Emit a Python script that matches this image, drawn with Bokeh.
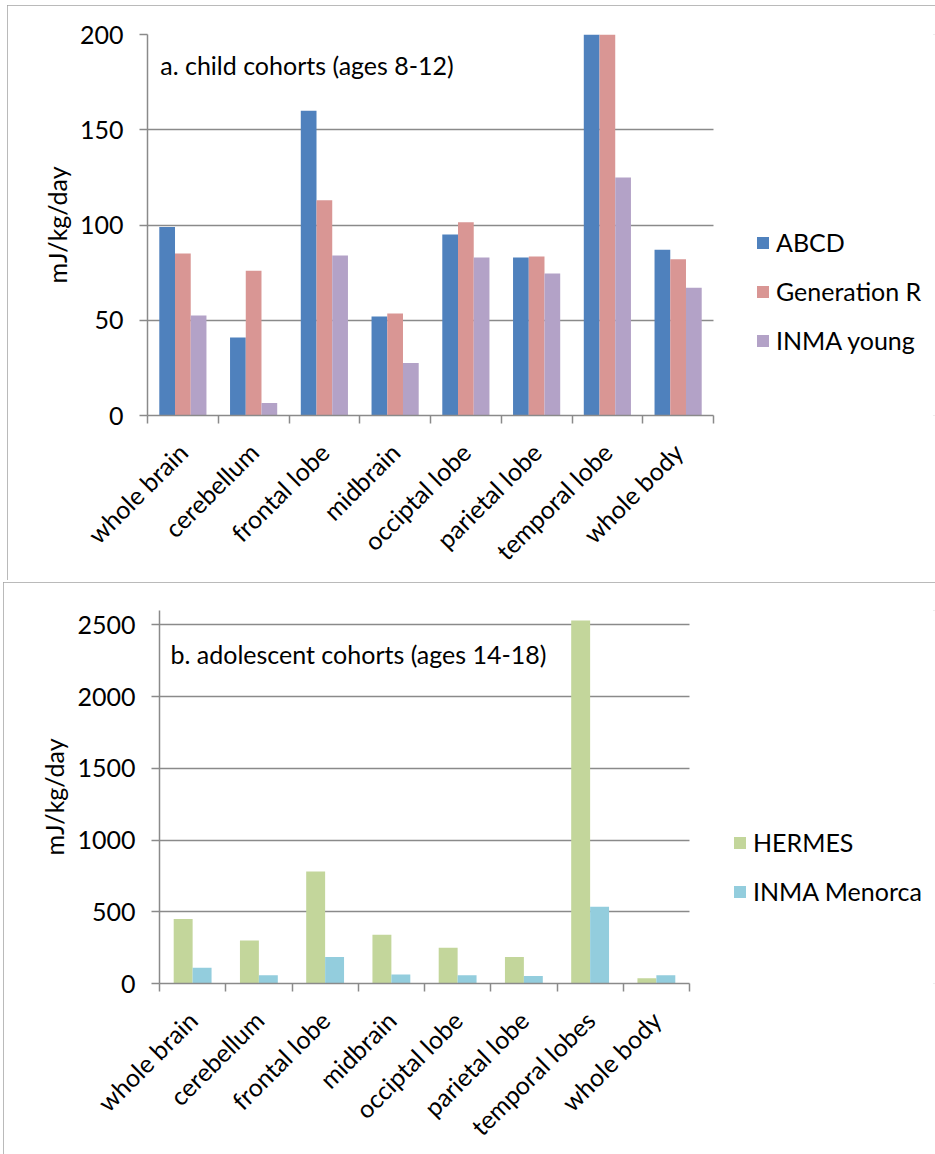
import numpy as np
from bokeh.plotting import figure
from bokeh.models import Range1d, FixedTicker, Label, Legend, LegendItem, BoxAnnotation
from bokeh.embed import file_html
from bokeh.resources import INLINE

# ---- data ----
regions_child = ["whole brain", "cerebellum", "frontal lobe", "midbrain",
                 "occiptal lobe", "parietal lobe", "temporal lobe", "whole body"]
abcd = [99, 41, 160, 52, 95, 83, 220, 87]
generation_r = [85, 76, 113, 53.5, 101.5, 83.5, 215, 82]
inma_young = [52.5, 6.5, 84, 27.5, 83, 74.5, 125, 67]
child_ticks = [0, 50, 100, 150, 200]

regions_adol = ["whole brain", "cerebellum", "frontal lobe", "midbrain",
                "occiptal lobe", "parietal lobe", "temporal lobes", "whole body"]
hermes = [450, 300, 780, 340, 250, 185, 2530, 37]
inma_menorca = [110, 57, 185, 63, 57, 52, 535, 57]
adol_ticks = [0, 500, 1000, 1500, 2000, 2500]

FONT = "Lato"
FS = "25px"
GRAY = "#8a8a8a"


def make_panel(regions, series, names, colors, yticks, ymax, title, title_xy,
               size, borders, data_w, margin, legend_loc, legend_spacing):
    n = len(regions)
    k = len(series)
    frame_w = size[0] - borders[0]
    # the frame runs to the right edge so the legend can sit inside it;
    # the category area occupies the first data_w pixels
    x_end = n * frame_w / data_w
    p = figure(width=size[0], height=size[1],
               x_range=Range1d(0, x_end), y_range=Range1d(0, ymax),
               output_backend="svg", toolbar_location=None,
               min_border_left=borders[0], min_border_right=0,
               min_border_top=borders[1], min_border_bottom=borders[2],
               margin=margin)
    p.outline_line_color = None
    p.background_fill_color = "white"
    p.border_fill_color = "white"
    p.styles = {"outline": "2px solid #a3a3a3", "outline-offset": "-2px"}

    centers = np.arange(n) + 0.5
    bar_w = 1.0 / (k + 1.5)          # 150% gap between clusters
    items = []
    for j, (vals, name, col) in enumerate(zip(series, names, colors)):
        off = (j - (k - 1) / 2) * bar_w
        r = p.vbar(x=centers + off, top=vals, bottom=0, width=bar_w,
                   fill_color=col, line_color=None)
        items.append(LegendItem(label=name, renderers=[r]))

    # x axis: category names at centres, tick marks on the boundaries
    xa = p.xaxis[0]
    xa.bounds = (0, n)
    xa.ticker = FixedTicker(ticks=list(centers), minor_ticks=list(range(n + 1)))
    xa.major_label_overrides = {float(c): r for c, r in zip(centers, regions)}
    xa.major_label_orientation = np.pi / 4
    xa.major_tick_out = 0
    xa.major_tick_in = 0
    xa.minor_tick_out = 8
    xa.minor_tick_in = 0
    xa.minor_tick_line_color = GRAY
    xa.minor_tick_line_width = 1.5
    xa.axis_line_color = GRAY
    xa.axis_line_width = 1.5
    xa.major_label_text_font = FONT
    xa.major_label_text_font_size = FS
    xa.major_label_text_color = "black"
    xa.major_label_standoff = 24

    ya = p.yaxis[0]
    ya.ticker = FixedTicker(ticks=yticks)
    ya.minor_tick_line_color = None
    ya.major_tick_out = 8
    ya.major_tick_in = 0
    ya.major_tick_line_color = GRAY
    ya.major_tick_line_width = 1.5
    ya.axis_line_color = GRAY
    ya.axis_line_width = 1.5
    ya.major_label_text_font = FONT
    ya.major_label_text_font_size = FS
    ya.major_label_text_color = "black"
    ya.major_label_standoff = 16
    ya.axis_label = "mJ/kg/day"
    ya.axis_label_text_font = FONT
    ya.axis_label_text_font_size = FS
    ya.axis_label_text_font_style = "normal"
    ya.axis_label_text_color = "black"
    ya.axis_label_standoff = 5

    p.xgrid.grid_line_color = None
    p.ygrid.grid_line_color = GRAY
    p.ygrid.grid_line_width = 1.5

    # blank strip to the right of the categories, behind the legend
    p.add_layout(BoxAnnotation(left=n, fill_color="white", fill_alpha=1.0,
                               line_color=None, level="underlay"))

    p.add_layout(Label(x=title_xy[0], y=title_xy[1], text=title,
                       text_baseline="middle", text_font=FONT,
                       text_font_size=FS, text_color="black"))

    leg = Legend(items=items, location=legend_loc, orientation="vertical",
                 border_line_color=None, background_fill_alpha=0,
                 padding=0, margin=0, spacing=legend_spacing,
                 glyph_width=15, glyph_height=15, label_standoff=6,
                 label_text_font=FONT, label_text_font_size=FS,
                 label_text_color="black")
    p.add_layout(leg)
    return p


p1 = make_panel(regions_child, [abcd, generation_r, inma_young],
                ["ABCD", "Generation R", "INMA young"],
                ["#4F81BD", "#D99694", "#B3A2C7"],
                child_ticks, 200, "a. child cohorts (ages 8-12)", (0.18, 184),
                (928, 575), (140, 29, 165), 566, (5, 0, 0, 7),
                (608, 60), 19)

p2 = make_panel(regions_adol, [hermes, inma_menorca],
                ["HERMES", "INMA Menorca"],
                ["#C3D69B", "#93CDDD"],
                adol_ticks, 2600, "b. adolescent cohorts (ages 14-18)", (0.166, 2300),
                (932, 572), (156, 28, 170), 530, (2, 0, 0, 3),
                (573, 77), 19)

open("out.html", "w").write(file_html([p1, p2], INLINE))
